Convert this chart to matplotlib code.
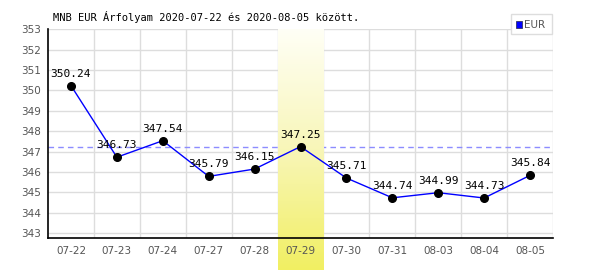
import matplotlib
matplotlib.use("Agg")
import matplotlib.pyplot as plt
import numpy as np
from matplotlib.colors import LinearSegmentedColormap
from matplotlib.patches import Rectangle

dates = ["07-22", "07-23", "07-24", "07-27", "07-28", "07-29", "07-30", "07-31", "08-03", "08-04", "08-05"]
eur = [350.24, 346.73, 347.54, 345.79, 346.15, 347.25, 345.71, 344.74, 344.99, 344.73, 345.84]
highlight = "07-29"
yticks = list(range(343, 354))
title = "MNB EUR Árfolyam 2020-07-22 és 2020-08-05 között."

fig = plt.figure(figsize=(6, 2.7), dpi=100)
ax = fig.add_axes([48/600, 1-238.3/270, (553-48)/600, (238.3-29.3)/270])
x = np.arange(len(dates))
ymin = 343 - (238.3-233.3)/20.4

# highlight gradient
hi = dates.index(highlight)
cmap = LinearSegmentedColormap.from_list("hl", ["#fffff6", "#f8f6b8", "#f1ef62"])
grad = np.linspace(0, 1, 256).reshape(-1, 1)
ybot = ymin - (270-238.3)/20.4
ax.imshow(grad, extent=[hi-0.5, hi+0.5, ybot, 353], origin="upper", cmap=cmap,
          aspect="auto", zorder=2.2, clip_on=False, interpolation="bilinear")
ax.set_xlim(-0.5, len(dates)-0.5)
ax.set_ylim(ymin, 353)

# grid
for yv in yticks:
    ax.axhline(yv, color="#dddddd", lw=1, zorder=1)
for xv in np.arange(0.5, len(dates), 1.0):
    ax.axvline(xv, color="#dddddd", lw=1, zorder=1)

ax.axhline(eur[hi], color="#8c8cff", lw=1, ls=(0, (4, 3)), zorder=2)

ax.plot(x, eur, color="#0000ff", lw=1, zorder=3)
ax.plot(x, eur, "o", color="black", ms=5.5, zorder=4)
for xi, v in zip(x, eur):
    ax.annotate(f"{v:.2f}", (xi, v), xytext=(0, 5), textcoords="offset points",
                ha="center", va="bottom", fontsize=8, family="DejaVu Sans Mono", color="black", zorder=5)

for s in ["top", "right"]:
    ax.spines[s].set_visible(False)
for s in ["left", "bottom"]:
    ax.spines[s].set_color("black")
    ax.spines[s].set_linewidth(1.2)
    ax.spines[s].set_zorder(6)

ax.set_yticks(yticks)
ax.set_yticklabels([str(t) for t in yticks], fontsize=7.5, color="#555555")
ax.set_xticks(x)
ax.set_xticklabels(dates, fontsize=7.5, color="#555555")
ax.tick_params(axis="y", length=0, pad=5)
ax.tick_params(axis="x", length=0, pad=5.5)
ax.xaxis.set_zorder(5)
ax.yaxis.set_zorder(5)

fig.text(53/600, 1-17/270, title, fontsize=7.5, family="DejaVu Sans Mono", ha="left", va="center", color="black")

# legend
fig.patches.append(Rectangle((511/600, 1-34/270), 41/600, 20/270, transform=fig.transFigure,
                             facecolor="white", edgecolor="#dddddd", lw=1))
fig.patches.append(Rectangle((515.5/600, 1-27.5/270), 6.5/600, 6.5/270, transform=fig.transFigure,
                             facecolor="#0000ff", edgecolor="#333366", lw=0.6))
fig.text(524/600, 1-24.5/270, "EUR", fontsize=7.5, color="#555555", ha="left", va="center")

fig.savefig("out.png", dpi=100)
